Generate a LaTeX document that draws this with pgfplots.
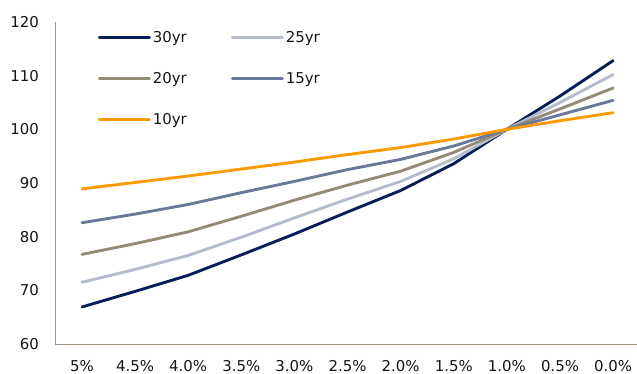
\documentclass[border=0pt]{standalone}
\usepackage{pgfplots}
\pgfplotsset{compat=1.18}
\usepackage{fontspec}
\setmainfont{DejaVu Sans}

\definecolor{c30}{RGB}{8,30,88}
\definecolor{c25}{RGB}{180,188,204}
\definecolor{c20}{RGB}{148,138,120}
\definecolor{c15}{RGB}{106,120,154}
\definecolor{c10}{RGB}{255,153,0}
\definecolor{axisc}{RGB}{160,146,126}
\definecolor{txt}{RGB}{20,20,20}

\begin{document}
\begin{tikzpicture}[font=\fontsize{15}{18}\selectfont]
\useasboundingbox (0,0) rectangle (637bp,374bp);
\begin{axis}[
  at={(55.4bp,30bp)}, anchor=south west,
  scale only axis, width=581.6bp, height=322bp,
  xmin=-0.5, xmax=10.45, ymin=60, ymax=120,
  ytick={60,70,...,120},
  xtick={0,...,10},
  xticklabels={5\%,4.5\%,4.0\%,3.5\%,3.0\%,2.5\%,2.0\%,1.5\%,1.0\%,0.5\%,0.0\%},
  axis x line=bottom, axis y line=left,
  axis line style={-, draw=axisc, line width=0.9pt},
  major tick length=0pt,
  /pgf/number format/assume math mode=true,
  tick label style={font=\fontsize{15}{18}\selectfont, text=txt},
  yticklabel style={xshift=-13bp},
  xticklabel style={yshift=-12.5bp},
  every axis plot/.append style={line width=2.9pt, line join=round, line cap=round},
  legend columns=2,
  legend cell align=left,
  legend image code/.code={\draw[#1] (0bp,0bp) -- (50bp,0bp);},
  legend style={draw=none, fill=none, inner sep=0pt, outer sep=0pt,
    at={(0,1)}, anchor=north west, xshift=42.6bp, yshift=-7.5bp,
    row sep=24.5bp, font=\fontsize{15}{18}\selectfont, text=txt,
    /tikz/every even column/.append style={column sep=42bp}},
]
\addplot[c30] coordinates {(0,66.9) (1,69.8) (2,72.8) (3,76.6) (4,80.5) (5,84.6) (6,88.6) (7,93.6) (8,100) (9,106.2) (10,112.8)};
\addlegendentry{30yr}
\addplot[c25] coordinates {(0,71.5) (1,73.9) (2,76.5) (3,79.9) (4,83.5) (5,87.0) (6,90.3) (7,94.5) (8,100) (9,105.0) (10,110.2)};
\addlegendentry{25yr}
\addplot[c20] coordinates {(0,76.7) (1,78.7) (2,80.9) (3,83.8) (4,86.8) (5,89.6) (6,92.2) (7,95.7) (8,100) (9,103.8) (10,107.7)};
\addlegendentry{20yr}
\addplot[c15] coordinates {(0,82.6) (1,84.2) (2,86.0) (3,88.2) (4,90.3) (5,92.5) (6,94.4) (7,96.9) (8,100) (9,102.7) (10,105.4)};
\addlegendentry{15yr}
\addplot[c10] coordinates {(0,88.9) (1,90.1) (2,91.3) (3,92.6) (4,93.9) (5,95.3) (6,96.6) (7,98.2) (8,100) (9,101.6) (10,103.1)};
\addlegendentry{10yr}
\end{axis}
\end{tikzpicture}
\end{document}
